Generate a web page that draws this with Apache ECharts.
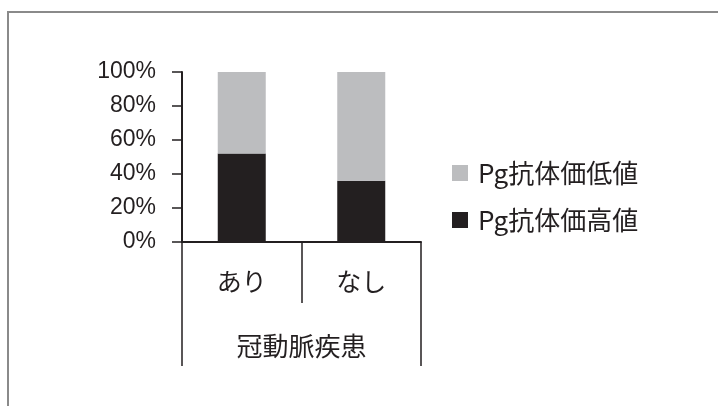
<!DOCTYPE html>
<html>
<head>
<meta charset="utf-8">
<script src="https://cdn.jsdelivr.net/npm/echarts@6/dist/echarts.min.js"></script>
<style>
  html, body { margin: 0; padding: 0; background: #fff; }
  #chart { width: 718px; height: 406px; position: relative; }
  .frame {
    position: absolute; left: 7px; top: 11px; right: 0; bottom: 0;
    border-top: 2px solid #8a8a8a; border-left: 2px solid #8a8a8a;
    pointer-events: none;
  }
</style>
</head>
<body>
<div id="chart"></div>
<script>
// 冠動脈疾患の有無 × Pg抗体価
const categories = ['あり', 'なし']
const groupLabel = ['冠動脈疾患']
const highValues = [52, 36]
const lowValues = [48, 64]
const yTicks = [0, 20, 40, 60, 80, 100]

const fontJa = '"Noto Sans CJK JP", "Noto Sans", sans-serif'
const fontNum = '"Liberation Sans", Arial, sans-serif'
const axisColor = '#231f20'

const chart = echarts.init(document.getElementById('chart'))

chart.setOption({
  animation: false,
  grid: { left: 182, right: 297, top: 72, bottom: 164 },
  legend: {
    orient: 'vertical',
    left: 447,
    top: 155,
    itemWidth: 16,
    itemHeight: 16,
    itemGap: 21,
    icon: 'rect',
    data: ['Pg抗体価低値', 'Pg抗体価高値'],
    textStyle: { fontFamily: fontJa, fontSize: 26, color: '#231f20', padding: [0, 0, 0, 5] }
  },
  xAxis: [
    {
      type: 'category',
      data: categories,
      position: 'bottom',
      axisLine: { lineStyle: { color: axisColor, width: 2 } },
      axisTick: { show: true, length: 61, lineStyle: { color: axisColor, width: 1.5 } },
      axisLabel: { margin: 27, fontFamily: fontJa, fontSize: 25, color: '#231f20' }
    },
    {
      type: 'category',
      data: groupLabel,
      position: 'bottom',
      axisLine: { show: false },
      axisTick: { show: true, length: 124, lineStyle: { color: axisColor, width: 1.5 } },
      axisLabel: { margin: 91, fontFamily: fontJa, fontSize: 26, color: '#231f20' }
    }
  ],
  yAxis: {
    type: 'value',
    min: yTicks[0],
    max: yTicks[yTicks.length - 1],
    interval: 20,
    splitLine: { show: false },
    axisLine: { show: true, lineStyle: { color: axisColor, width: 2 } },
    axisTick: { show: true, length: 10, lineStyle: { color: axisColor, width: 1.5 } },
    axisLabel: { margin: 26, formatter: '{value}%', fontFamily: fontNum, fontSize: 23, color: '#231f20' }
  },
  series: [
    {
      name: 'Pg抗体価高値',
      type: 'bar',
      stack: 'total',
      xAxisIndex: 0,
      barWidth: 48,
      data: highValues,
      itemStyle: { color: '#231f20' }
    },
    {
      name: 'Pg抗体価低値',
      type: 'bar',
      stack: 'total',
      xAxisIndex: 0,
      barWidth: 48,
      data: lowValues,
      itemStyle: { color: '#bcbdbf' }
    }
  ]
})

const frame = document.createElement('div')
frame.className = 'frame'
document.getElementById('chart').appendChild(frame)
</script>
</body>
</html>
